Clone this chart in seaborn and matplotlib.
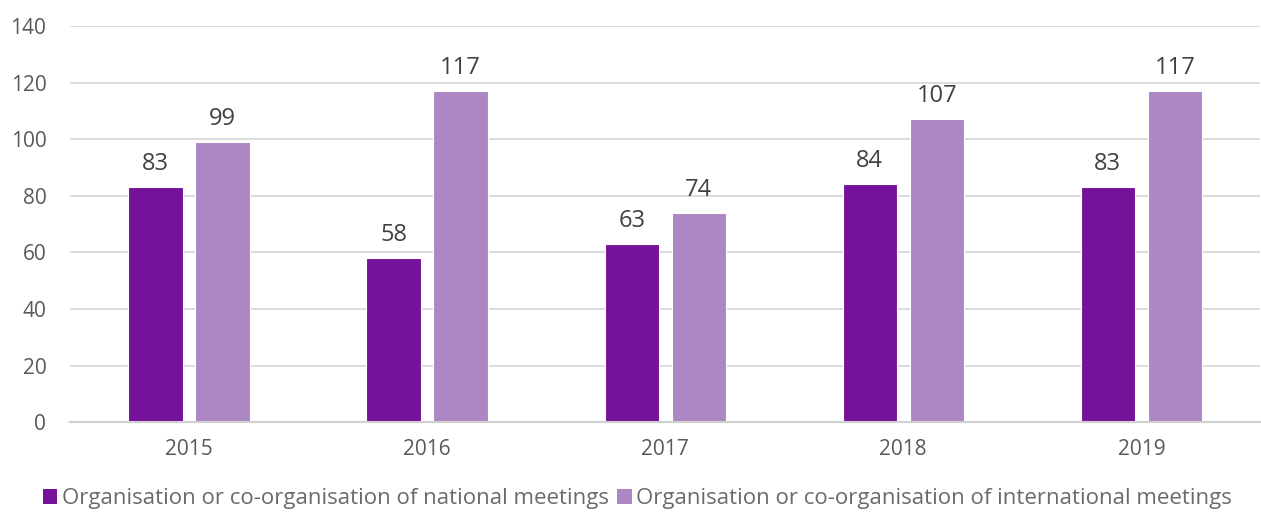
import pandas as pd
import matplotlib.pyplot as plt
import seaborn as sns
from matplotlib.patches import Patch

years = ['2015', '2016', '2017', '2018', '2019']
national = [83, 58, 63, 84, 83]
international = [99, 117, 74, 107, 117]
series = ['Organisation or co-organisation of national meetings',
          'Organisation or co-organisation of international meetings']
colors = ['#74139A', '#AC87C3']

df = pd.DataFrame({
    'year': years * 2,
    'value': national + international,
    'type': [series[0]] * len(years) + [series[1]] * len(years),
})

sns.set_style('white')
plt.rcParams['font.family'] = ['Open Sans', 'DejaVu Sans']

fig = plt.figure(figsize=(12.61, 5.18), dpi=100)
ax = fig.add_axes([0.0555, 0.185, 0.944, 0.765])

sns.barplot(data=df, x='year', y='value', hue='type', palette=colors,
            saturation=1, width=0.563, gap=0.19, edgecolor='white',
            linewidth=0.8, legend=False, ax=ax)

for cont in ax.containers:
    ax.bar_label(cont, padding=8, fontsize=17, color='#404040')

ax.set_xlim(-0.5, 4.5)
ax.set_ylim(0, 140)
ax.set_yticks(range(0, 141, 20))
ax.grid(axis='y', color='#d9d9d9', linewidth=1.3)
ax.set_axisbelow(True)
sns.despine(ax=ax, left=True, right=True, top=True)
ax.spines['bottom'].set_color('#d0d0d0')
ax.spines['bottom'].set_linewidth(1.5)
ax.tick_params(axis='both', length=0, labelsize=15, colors='#595959')
ax.tick_params(axis='y', pad=17)
ax.tick_params(axis='x', pad=12)
ax.set_xlabel('')
ax.set_ylabel('')

handles = [Patch(facecolor=c, edgecolor='none') for c in colors]
fig.legend(handles, series, loc='lower left', bbox_to_anchor=(0.018, -0.022),
           ncol=2, frameon=False, handlelength=0.65, handleheight=0.65,
           handletextpad=0.2, columnspacing=0.4, labelcolor='#6a6a6a',
           prop={'family': ['Open Sans', 'DejaVu Sans'], 'size': 16})

fig.savefig('out.png', dpi=100)
